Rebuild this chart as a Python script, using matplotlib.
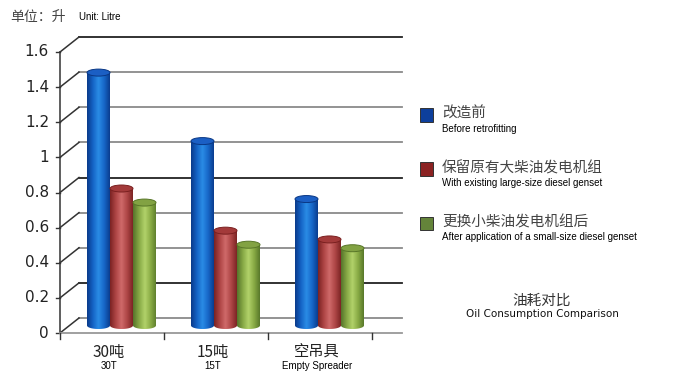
import numpy as np
import matplotlib.pyplot as plt
from matplotlib.patches import Ellipse, PathPatch, Rectangle
from matplotlib.path import Path
from matplotlib.colors import LinearSegmentedColormap

# data (litre)
categories_cn = ['30吨', '15吨', '空吊具']
categories_en = ['30T', '15T', 'Empty Spreader']
series_cn = ['改造前', '保留原有大柴油发电机组', '更换小柴油发电机组后']
series_en = ['Before retrofitting', 'With existing large-size diesel genset',
             'After application of a small-size diesel genset']
before_retrofit = [1.44, 1.05, 0.72]
existing_genset = [0.78, 0.54, 0.49]
small_genset = [0.70, 0.46, 0.44]
y_ticks = [0, 0.2, 0.4, 0.6, 0.8, 1.0, 1.2, 1.4, 1.6]
y_tick_labels = ['0', '0.2', '0.4', '0.6', '0.8', '1', '1.2', '1.4', '1.6']

values = [before_retrofit, existing_genset, small_genset]

# colours for cylinders: gradient stops, cap face, cap rim, legend swatch
grads = [['#0a3a8a', '#1462c4', '#2a8ce6', '#1767c8', '#0a3c8e'],
         ['#7a2222', '#ad4444', '#d06a6a', '#ae4646', '#7c2424'],
         ['#55732a', '#86a845', '#b2d26a', '#88aa44', '#58782a']]
cap_face = ['#1b5fc4', '#a33a3a', '#82a243']
cap_rim = ['#0a3784', '#7a2020', '#587628']
swatch = ['#0d3f9c', '#8b2222', '#64843a']
grid_cols = ['#8a8a8a', '#222222', '#8a8a8a', '#8a8a8a', '#222222',
             '#8a8a8a', '#8a8a8a', '#8a8a8a', '#222222']

W, H = 680, 383
fig = plt.figure(figsize=(W / 100, H / 100), dpi=100)

def fp(x, y):
    # pixel position -> figure fraction
    return x / W, 1 - y / H

# front plane of the 3d box
ax_l, ax_b, ax_w, ax_h = 60, 333, 312, 281
ax = fig.add_axes([ax_l / W, (H - ax_b) / H, ax_w / W, ax_h / H])
ax.set_xlim(0, 3)
ax.set_ylim(0, 1.6)
ax.axis('off')

ppx = ax_w / 3.0
ppy = ax_h / 1.6
ddx = 19 / ppx   # depth offset
ddy = 15 / ppy
x_end_back = (402 - ax_l) / ppx - ddx
x_end_front = (402 - ax_l) / ppx

# back wall gridlines + diagonals on the side wall
for v, lab, c in zip(y_ticks, y_tick_labels, grid_cols):
    ax.plot([ddx, ddx + x_end_back], [v + ddy, v + ddy], color=c, lw=1.3,
            clip_on=False, zorder=1)
    ax.plot([0, ddx], [v, v + ddy], color='#333333', lw=1.1, clip_on=False, zorder=1)
    ax.plot([-4 / ppx, 0], [v, v], color='#333333', lw=1.0, clip_on=False)
    ax.text(-11 / ppx, v, lab, ha='right', va='center',
            fontsize=11, family='DejaVu Sans', color='#222222')

# front axes lines
ax.plot([0, 0], [0, 1.6], color='#333333', lw=1.1, clip_on=False, zorder=2)
ax.plot([0, x_end_front], [0, 0], color='#999999', lw=1.3, clip_on=False, zorder=2)
for k in range(4):
    ax.plot([k, k], [0, -6 / ppy], color='#333333', lw=1.0, clip_on=False)

# cylinders
bw = 23 / ppx
b = 3.5 / ppy
base = ddy / 2
grad = np.linspace(0, 1, 128).reshape(1, -1)
for j, vals in enumerate(values):
    cm = LinearSegmentedColormap.from_list('c%d' % j, grads[j])
    for i, v in enumerate(vals):
        xc = i + 0.5 + ddx / 2 + (j - 1) * bw
        x0, x1 = xc - bw / 2, xc + bw / 2
        yt = base + v
        t = np.linspace(np.pi, 2 * np.pi, 30)
        verts = [(x0, yt), (x0, base)] + list(zip(xc + bw / 2 * np.cos(t), base + b * np.sin(t))) \
            + [(x1, yt), (x0, yt)]
        codes = [Path.MOVETO] + [Path.LINETO] * (len(verts) - 2) + [Path.CLOSEPOLY]
        clip = PathPatch(Path(verts, codes), facecolor='none', edgecolor='none')
        ax.add_patch(clip)
        im = ax.imshow(grad, cmap=cm, extent=(x0, x1, base - b, yt), aspect='auto',
                       origin='lower', interpolation='bilinear', zorder=3)
        im.set_clip_path(clip)
        ax.add_patch(Ellipse((xc, yt), bw, 2 * b, facecolor=cap_face[j],
                             edgecolor=cap_rim[j], lw=0.7, zorder=4))

ax.set_xlim(0, 3)
ax.set_ylim(0, 1.6)

cjk = ['Noto Sans CJK SC', 'DejaVu Sans']

# category labels
for i in range(3):
    ax.text(i + 0.47, -19 / ppy, categories_cn[i], ha='center', va='center', fontsize=11,
            family=cjk, color='#222222', clip_on=False)
    ax.text(i + 0.47, -33 / ppy, categories_en[i], ha='center', va='center', fontsize=7,
            family='Liberation Sans', color='#000000', clip_on=False)

# unit label
fig.text(*fp(10, 17), '单位：升', ha='left', va='center', fontsize=10, family=cjk, color='#444444')
fig.text(*fp(79, 17), 'Unit: Litre', ha='left', va='center', fontsize=7,
         family='Liberation Sans', color='#000000')

# legend
leg_y = [115, 169, 223]
for j in range(3):
    x0, y0 = fp(420, leg_y[j] + 6.5)
    fig.add_artist(Rectangle((x0, y0), 13 / W, 13 / H, transform=fig.transFigure,
                             facecolor=swatch[j], edgecolor='#333333', lw=0.7))
    fig.text(*fp(442, leg_y[j] - 1), series_cn[j], ha='left', va='center', fontsize=10.5,
             family=cjk, color='#444444')
    fig.text(*fp(442, leg_y[j] + 14), series_en[j], ha='left', va='center', fontsize=7,
             family='Liberation Sans', color='#000000')

# chart title at bottom right
fig.text(*fp(542, 301), '油耗对比', ha='center', va='center', fontsize=10.5, family=cjk,
         color='#333333')
fig.text(*fp(542, 314), 'Oil Consumption Comparison', ha='center', va='center', fontsize=7.5,
         family='DejaVu Sans', color='#111111')

fig.savefig('out.png', dpi=100)
